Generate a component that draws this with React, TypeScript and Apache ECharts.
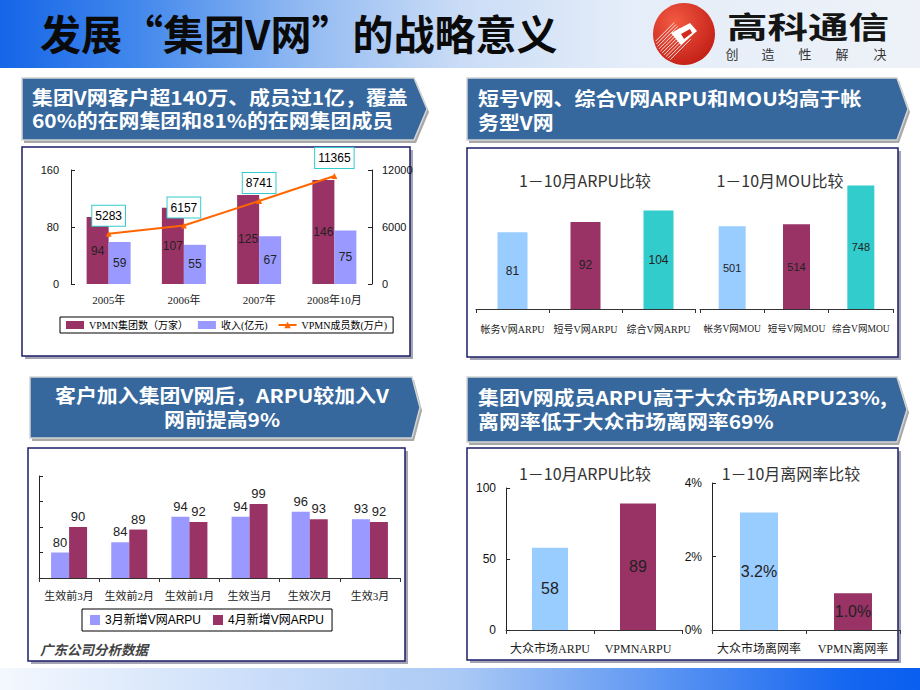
import React, { useEffect, useRef } from "react";
import * as echarts from "echarts";

// ---------- data ----------
const years = ["2005年", "2006年", "2007年", "2008年10月"];
const groupCounts = [94, 107, 125, 146];
const revenue = [59, 55, 67, 75];
const members = [5283, 6157, 8741, 11365];

const arpuCats = ["帐务V网ARPU", "短号V网ARPU", "综合V网ARPU"];
const arpuVals = [81, 92, 104];
const mouCats = ["帐务V网MOU", "短号V网MOU", "综合V网MOU"];
const mouVals = [501, 514, 748];

const stageCats = ["生效前3月", "生效前2月", "生效前1月", "生效当月", "生效次月", "生效3月"];
const marchArpu = [80, 84, 94, 94, 96, 93];
const aprilArpu = [90, 89, 92, 99, 93, 92];

const marketCats = ["大众市场ARPU", "VPMNARPU"];
const marketArpu = [58, 89];
const churnCats = ["大众市场离网率", "VPMN离网率"];
const churnVals = [3.2, 1.0];

// ---------- styles ----------
const SERIF = "'Liberation Serif', 'DejaVu Serif', 'Noto Sans CJK SC', serif";
const SANS = "'Liberation Sans', Arial, 'Noto Sans CJK SC', sans-serif";
const CJK = "'Noto Sans CJK SC', 'Liberation Sans', sans-serif";

const MAROON = "#993366";
const LAVENDER = "#9999FF";
const SKY = "#99CCFF";
const TEAL = "#33CCCC";
const ORANGE = "#FF6600";

function banner(x1: number, y1: number, x2: number, y2: number, tipX: number) {
  const mid = (y1 + y2) / 2;
  const pts = [[x1, y1], [x2, y1], [tipX, mid], [x2, y2], [x1, y2]];
  return [
    { type: "polygon", shape: { points: pts.map((p) => [p[0] + 2, p[1] + 3]) }, style: { fill: "#a8a8a8" }, z: 0 },
    { type: "polygon", shape: { points: pts }, style: { fill: "#36689e", stroke: "#d4d4d4", lineWidth: 1.5 }, z: 1 },
  ];
}

function box(x: number, y: number, w: number, h: number) {
  return [
    { type: "rect", shape: { x: x + 3, y: y + 3, width: w, height: h }, style: { fill: "#a4a4b4" }, z: 0 },
    { type: "rect", shape: { x, y, width: w, height: h }, style: { fill: "#fff", stroke: "#1e1e6a", lineWidth: 1.5 }, z: 1 },
  ];
}

function txt(x: number, y: number, text: string, size: number, extra: any = {}) {
  const { scaleX, ...st } = extra;
  const el: any = {
    type: "text",
    x,
    y,
    z: 10,
    style: {
      text,
      fontSize: size,
      fontFamily: CJK,
      fill: "#000",
      textAlign: "left",
      textVerticalAlign: "middle",
      ...st,
    },
  };
  if (scaleX) el.scaleX = scaleX;
  return el;
}

function bannerText(x: number, y: number, text: string, align = "left") {
  return txt(x, y, text, 19, { fill: "#fff", fontWeight: "bold", textAlign: align, scaleX: 1.1 });
}

function logo() {
  const cx = 684, cy = 34, r = 31;
  const els: any[] = [
    {
      type: "circle",
      shape: { cx, cy, r },
      style: {
        fill: {
          type: "radial", x: 0.35, y: 0.3, r: 0.8,
          colorStops: [{ offset: 0, color: "#f25a42" }, { offset: 1, color: "#c01b14" }],
        },
      },
      z: 5,
    },
  ];
  const ux = Math.SQRT1_2, uy = -Math.SQRT1_2;
  const nx = Math.SQRT1_2, ny = Math.SQRT1_2;
  for (let o = -15; o <= 9; o += 2.6) {
    const tEnd = Math.sqrt(r * r - o * o) - 2;
    const x1 = cx + o * nx - tEnd * ux, y1 = cy + o * ny - tEnd * uy;
    const x2 = cx + o * nx + 1 * ux, y2 = cy + o * ny + 1 * uy;
    els.push({ type: "line", shape: { x1, y1, x2, y2 }, style: { stroke: "#ffffff", lineWidth: 1, opacity: 0.85 }, z: 6 });
  }
  els.push({
    type: "polygon",
    shape: { points: [[671, 33], [690, 23], [697, 31], [681, 45]] },
    style: { fill: "#ffffff" },
    z: 7,
  });
  els.push({
    type: "polygon",
    shape: { points: [[681, 34], [690, 29], [692, 33], [684, 39]] },
    style: { fill: "#d42a1e" },
    z: 8,
  });
  return els;
}

const graphics: any[] = [
  {
    type: "rect",
    shape: { x: 0, y: 0, width: 920, height: 68 },
    style: {
      fill: {
        type: "linear", x: 0, y: 0, x2: 1, y2: 0,
        colorStops: [
          { offset: 0, color: "#1565e8" },
          { offset: 0.15, color: "#4288ec" },
          { offset: 0.33, color: "#92baf2" },
          { offset: 0.5, color: "#cadcf6" },
          { offset: 0.68, color: "#e4edf9" },
          { offset: 1, color: "#eef2f8" },
        ],
      },
    },
    z: 0,
  },
  txt(40, 32, "发展“集团V网”的战略意义", 41, { fontWeight: "bold", fill: "#0a0a0a" }),
  ...logo(),
  txt(727, 25, "高科通信", 30, { fontWeight: "bold", fill: "#151515", scaleX: 1.35 }),
  txt(732, 53, "创", 13, { textAlign: "center", fill: "#333" }),
  txt(768, 53, "造", 13, { textAlign: "center", fill: "#333" }),
  txt(805, 53, "性", 13, { textAlign: "center", fill: "#333" }),
  txt(842, 53, "解", 13, { textAlign: "center", fill: "#333" }),
  txt(880, 53, "决", 13, { textAlign: "center", fill: "#333" }),
  {
    type: "rect",
    shape: { x: 0, y: 668, width: 920, height: 22 },
    style: {
      fill: {
        type: "linear", x: 0, y: 0, x2: 1, y2: 0,
        colorStops: [
          { offset: 0, color: "#f4f8fe" },
          { offset: 0.5, color: "#aac9f5" },
          { offset: 0.92, color: "#1566f0" },
          { offset: 1, color: "#0a5ff0" },
        ],
      },
    },
    z: 0,
  },
  ...banner(22, 78, 414, 140, 427),
  bannerText(32, 97, "集团V网客户超140万、成员过1亿，覆盖"),
  bannerText(32, 120, "60%的在网集团和81%的在网集团成员"),
  ...banner(467, 78, 897, 140, 908),
  bannerText(478, 98, "短号V网、综合V网ARPU和MOU均高于帐"),
  bannerText(478, 122, "务型V网"),
  ...banner(30, 377, 412, 438, 420),
  bannerText(222, 395, "客户加入集团V网后，ARPU较加入V", "center"),
  bannerText(222, 419, "网前提高9%", "center"),
  ...banner(467, 377, 897, 442, 907),
  bannerText(478, 397, "集团V网成员ARPU高于大众市场ARPU23%,"),
  bannerText(478, 421, "离网率低于大众市场离网率69%"),
  ...box(22, 147, 388, 209),
  ...box(467, 148, 431, 209),
  ...box(28, 448, 377, 213),
  ...box(467, 448, 431, 212),
  txt(585, 180, "1－10月ARPU比较", 16, { textAlign: "center", fill: "#333" }),
  txt(780, 180, "1－10月MOU比较", 16, { textAlign: "center", fill: "#333" }),
  txt(585, 473, "1－10月ARPU比较", 16, { textAlign: "center", fill: "#333" }),
  txt(791, 473, "1－10月离网率比较", 16, { textAlign: "center", fill: "#333" }),
  txt(40, 649, "广东公司分析数据", 13.5, { fontStyle: "italic", fontWeight: "bold", fill: "#444" }),
];

function catAxis(gridIndex: number, data: string[], opts: any = {}) {
  return {
    type: "category",
    gridIndex,
    data,
    z: 5,
    axisLine: { show: opts.line !== false, lineStyle: { color: "#333", width: 1 } },
    axisTick: { show: opts.line !== false, length: 4, lineStyle: { color: "#333" } },
    axisLabel: {
      fontSize: opts.fontSize ?? 11,
      fontFamily: SERIF,
      color: "#222",
      margin: opts.margin ?? 12,
      interval: 0,
    },
    splitLine: { show: false },
  };
}

function valAxis(gridIndex: number, min: number, max: number, interval: number, opts: any = {}) {
  const ax: any = {
    type: "value",
    gridIndex,
    min,
    max,
    interval,
    z: 5,
    position: opts.position ?? "left",
    axisLine: { show: true, lineStyle: { color: "#222", width: 1 } },
    axisTick: { show: true, inside: true, length: 4, lineStyle: { color: "#222" } },
    axisLabel: {
      show: opts.labels !== false,
      fontSize: opts.fontSize ?? 11,
      fontFamily: SANS,
      color: "#111",
      margin: opts.margin ?? 10,
      formatter: opts.formatter ?? ((v: number) => String(v)),
    },
    splitLine: { show: false },
  };
  return ax;
}

const insideLabel = (size: number) => ({
  show: true,
  position: "inside",
  fontSize: size,
  fontFamily: SANS,
  color: "#222",
});

function colored(values: number[], colors: string[]) {
  return values.map((v, i) => ({ value: v, itemStyle: { color: colors[i] } }));
}

const option: any = {
  animation: false,
  backgroundColor: "#ffffff",
  graphic: graphics,
  legend: [
    {
      left: 60,
      top: 317,
      z: 5,
      selectedMode: false,
      data: [
        { name: "VPMN集团数（万家）", icon: "rect" },
        { name: "收入(亿元)", icon: "rect" },
        { name: "VPMN成员数(万户)" },
      ],
      borderColor: "#000",
      borderWidth: 1,
      padding: [3, 6],
      itemWidth: 18,
      itemHeight: 8,
      itemGap: 10,
      textStyle: { fontSize: 10, fontFamily: SERIF, color: "#000" },
    },
    {
      left: 82,
      top: 609,
      z: 5,
      selectedMode: false,
      data: [
        { name: "3月新增V网ARPU", icon: "rect" },
        { name: "4月新增V网ARPU", icon: "rect" },
      ],
      borderColor: "#000",
      borderWidth: 1,
      padding: [5, 8],
      itemWidth: 10,
      itemHeight: 10,
      itemGap: 12,
      textStyle: { fontSize: 12, fontFamily: SANS, color: "#000" },
    },
  ],
  grid: [
    { left: 71, top: 170, width: 301, height: 114, outerBoundsMode: "none" },
    { left: 476, top: 186, width: 219, height: 123, outerBoundsMode: "none" },
    { left: 700, top: 177, width: 193, height: 132, outerBoundsMode: "none" },
    { left: 39, top: 476, width: 361, height: 102, outerBoundsMode: "none" },
    { left: 506, top: 488, width: 176, height: 142, outerBoundsMode: "none" },
    { left: 712, top: 483, width: 188, height: 147, outerBoundsMode: "none" },
  ],
  xAxis: [
    catAxis(0, years, { line: false, margin: 10 }),
    catAxis(1, arpuCats, { margin: 15, fontSize: 10 }),
    catAxis(2, mouCats, { margin: 15, fontSize: 9.5 }),
    catAxis(3, stageCats, { margin: 12 }),
    catAxis(4, marketCats, { margin: 13, fontSize: 12 }),
    catAxis(5, churnCats, { margin: 13, fontSize: 12 }),
  ],
  yAxis: [
    valAxis(0, 0, 160, 80, { margin: 12 }),
    valAxis(0, 0, 12000, 6000, { position: "right", margin: 10 }),
    { type: "value", gridIndex: 1, min: 0, max: 130, show: false, splitLine: { show: false } },
    { type: "value", gridIndex: 2, min: 0, max: 800, show: false, splitLine: { show: false } },
    valAxis(3, 70, 110, 10, { labels: false }),
    valAxis(4, 0, 100, 50, { fontSize: 12, margin: 10 }),
    valAxis(5, 0, 4, 2, { fontSize: 12, margin: 10, formatter: "{value}%" }),
  ],
  series: [
    {
      name: "VPMN集团数（万家）",
      type: "bar",
      xAxisIndex: 0,
      yAxisIndex: 0,
      data: groupCounts,
      barWidth: 22,
      barGap: "0%",
      itemStyle: { color: MAROON },
      label: insideLabel(12),
    },
    {
      name: "收入(亿元)",
      type: "bar",
      xAxisIndex: 0,
      yAxisIndex: 0,
      data: revenue,
      barWidth: 22,
      barGap: "0%",
      itemStyle: { color: LAVENDER },
      label: insideLabel(12),
    },
    {
      name: "VPMN成员数(万户)",
      type: "line",
      xAxisIndex: 0,
      yAxisIndex: 1,
      data: members,
      symbol: "triangle",
      symbolSize: 6,
      itemStyle: { color: ORANGE },
      lineStyle: { color: ORANGE, width: 2 },
      z: 6,
      label: {
        show: true,
        position: "top",
        distance: 5,
        fontSize: 12,
        fontFamily: SANS,
        color: "#000",
        backgroundColor: "#fff",
        borderColor: TEAL,
        borderWidth: 1,
        padding: [4, 3],
      },
    },
    {
      name: "arpu-compare",
      type: "bar",
      xAxisIndex: 1,
      yAxisIndex: 2,
      data: colored(arpuVals, [SKY, MAROON, TEAL]),
      barWidth: 30,
      label: insideLabel(12),
    },
    {
      name: "mou-compare",
      type: "bar",
      xAxisIndex: 2,
      yAxisIndex: 3,
      data: colored(mouVals, [SKY, MAROON, TEAL]),
      barWidth: 27,
      label: insideLabel(11),
    },
    {
      name: "3月新增V网ARPU",
      type: "bar",
      xAxisIndex: 3,
      yAxisIndex: 4,
      data: marchArpu,
      barWidth: 18,
      barGap: "0%",
      itemStyle: { color: LAVENDER },
      label: { show: true, position: "top", distance: 4, fontSize: 13, fontFamily: SANS, color: "#222" },
    },
    {
      name: "4月新增V网ARPU",
      type: "bar",
      xAxisIndex: 3,
      yAxisIndex: 4,
      data: aprilArpu,
      barWidth: 18,
      barGap: "0%",
      itemStyle: { color: MAROON },
      label: { show: true, position: "top", distance: 4, fontSize: 13, fontFamily: SANS, color: "#222" },
    },
    {
      name: "market-arpu",
      type: "bar",
      xAxisIndex: 4,
      yAxisIndex: 5,
      data: colored(marketArpu, [SKY, MAROON]),
      barWidth: 36,
      label: insideLabel(16),
    },
    {
      name: "churn",
      type: "bar",
      xAxisIndex: 5,
      yAxisIndex: 6,
      data: colored(churnVals, [SKY, MAROON]),
      barWidth: 38,
      label: { ...insideLabel(16), formatter: (p: any) => Number(p.value).toFixed(1) + "%" },
    },
  ],
};

export default function App() {
  const ref = useRef<HTMLDivElement>(null);
  useEffect(() => {
    if (!ref.current) return;
    const chart = echarts.init(ref.current, undefined, { renderer: "svg" });
    chart.setOption(option);
    return () => chart.dispose();
  }, []);
  return (
    <div style={{ position: "absolute", left: 0, top: 0, width: 920, height: 690, background: "#fff" }}>
      <div ref={ref} style={{ width: 920, height: 690 }} />
    </div>
  );
}
